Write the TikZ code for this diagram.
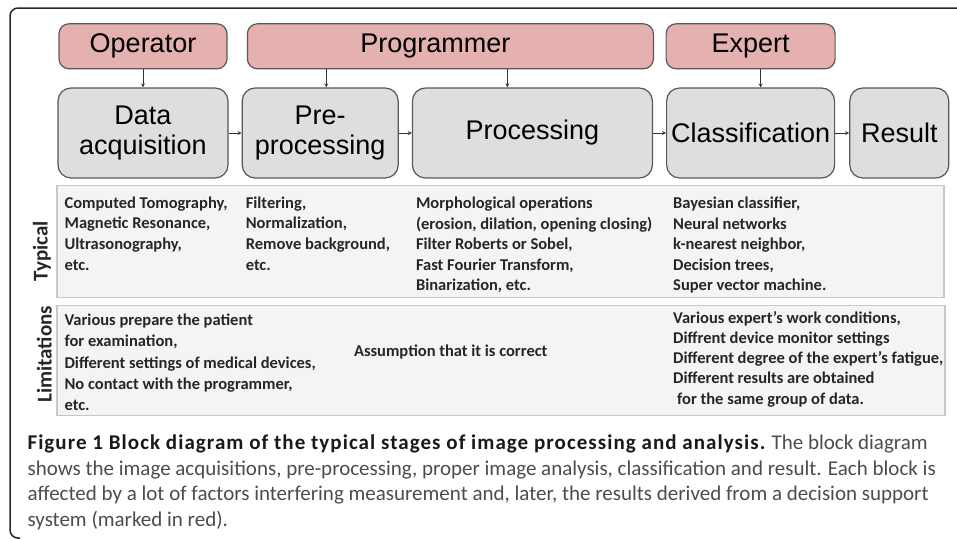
\documentclass[tikz,border=0pt]{standalone}
\usepackage{fontspec}
\usepackage{tikz}
\usepackage{xcolor}
\usetikzlibrary{shapes.geometric, arrows, positioning}
\newfontfamily\boxfont{Liberation Sans}
\newfontfamily\bodyfont{Carlito}
\definecolor{actorpink}{RGB}{229,176,176}
\definecolor{stagegray}{RGB}{222,222,222}
\definecolor{panelgray}{RGB}{244,244,244}
\definecolor{edgegray}{RGB}{88,88,88}
\definecolor{paneledge}{RGB}{200,200,200}
\tikzstyle{actor} = [rectangle, rounded corners=10pt, minimum height=45pt, text centered, draw=edgegray, fill=actorpink, line width=1.2pt, inner sep=0pt, font=\boxfont\fontsize{27}{30}\selectfont]
\tikzstyle{stage} = [rectangle, rounded corners=13pt, minimum height=90pt, align=center, draw=edgegray, fill=stagegray, line width=1.2pt, inner sep=0pt, font=\boxfont\fontsize{27}{30}\selectfont]
\tikzstyle{panel} = [rectangle, draw=paneledge, fill=panelgray, line width=1.2pt, inner sep=0pt]
\tikzstyle{paneltext} = [anchor=north west, align=left, inner sep=0pt, text=black!85, font=\bodyfont\bfseries\fontsize{16.5}{20.6}\selectfont]
\tikzstyle{sidelabel} = [rotate=90, inner sep=0pt, text=black!85, font=\bodyfont\bfseries\fontsize{21}{24}\selectfont]
\tikzstyle{arrow} = [line width=0.8pt,->,>=stealth, draw=black!80]

\begin{document}
\begin{tikzpicture}[x=1pt, y=-1pt]
        \useasboundingbox (0,0) rectangle (957,538);
        \draw [line width=1.5pt, rounded corners=8pt, black!85] (957,8) -- (10,8) -- (10,538) -- (20,538);

        \node (acq) [stage, minimum width=170pt] at (143,133) {Data\\acquisition};
        \node (pre) [stage, minimum width=156pt, right=13pt of acq] {Pre-\\processing};
        \node (proc) [stage, minimum width=240pt, right=13pt of pre] {Processing};
        \node (cls) [stage, minimum width=168pt, right=13pt of proc] {Classification};
        \node (res) [stage, minimum width=99pt, right=14pt of cls] {Result};

        \node (oper) [actor, minimum width=168pt, above=18pt of acq] {Operator};
        \node (prog) [actor, minimum width=406pt, above=18pt of proc, xshift=-82pt] {Programmer\hspace*{30pt}};
        \node (expt) [actor, minimum width=169pt, above=18pt of cls] {Expert};

        \node (typ) [panel, minimum width=887pt, minimum height=112pt, below=6pt of acq.south west, anchor=north west, xshift=-1pt] {};
        \node (lim) [panel, minimum width=888pt, minimum height=110pt, below=7pt of typ.south west, anchor=north west] {};
        \node (labtyp) [xshift=-14.5pt, yshift=-10pt, sidelabel] at (typ.west) {Typical};
        \node (lablim) [xshift=-12pt, yshift=6pt, sidelabel] at (lim.west) {Limitations};

        \node (typacq) [paneltext, xshift=7pt, yshift=-12pt] at (typ.north -| acq.west) {Computed Tomography,\\Magnetic Resonance,\\Ultrasonography,\\etc.};
        \node (typpre) [paneltext, xshift=4pt, yshift=-12pt] at (typ.north -| pre.west) {Filtering,\\Normalization,\\Remove background,\\etc.};
        \node (typproc) [paneltext, xshift=4pt, yshift=-12pt] at (typ.north -| proc.west) {Morphological operations\\(erosion, dilation, opening closing)\\Filter Roberts or Sobel,\\Fast Fourier Transform,\\Binarization, etc.};
        \node (typcls) [paneltext, xshift=7pt, yshift=-12pt] at (typ.north -| cls.west) {Bayesian classifier,\\Neural networks\\k-nearest neighbor,\\Decision trees,\\Super vector machine.};
        \node (limacq) [paneltext, xshift=7pt, yshift=-9pt, font=\bodyfont\bfseries\fontsize{16.5}{21.2}\selectfont] at (lim.north -| acq.west) {Various prepare the patient\\for examination,\\Different settings of medical devices,\\No contact with the programmer,\\etc.};
        \node (limproc) [paneltext, anchor=west, xshift=-58pt, yshift=8pt] at (lim.west -| proc.west) {Assumption that it is correct};
        \node (limcls) [paneltext, xshift=7pt, yshift=-6pt, font=\bodyfont\bfseries\fontsize{16.5}{20.3}\selectfont] at (lim.north -| cls.west) {Various expert’s work conditions,\\Diffrent device monitor settings\\Different degree of the expert’s fatigue,\\Different results are obtained\\\hspace*{4pt}for the same group of data.};

        \node (caption) [anchor=north west, align=left, inner sep=0pt, xshift=-29pt, yshift=-19pt, text=black!70, font=\bodyfont\fontsize{21}{25.5}\selectfont] at (lim.south west) {{\bfseries\addfontfeature{LetterSpace=5}\color{black!90}Figure 1 Block diagram of the typical stages of image processing and analysis.} The block diagram\\shows the image acquisitions, pre-processing, proper image analysis, classification and result. Each block is\\affected by a lot of factors interfering measurement and, later, the results derived from a decision support\\system (marked in red).};

        \draw [arrow] (oper) -- (acq);
        \draw [arrow] ([xshift=6pt]pre.north |- prog.south) -- ([xshift=6pt]pre.north);
        \draw [arrow] ([xshift=-25pt]proc.north |- prog.south) -- ([xshift=-25pt]proc.north);
        \draw [arrow] ([xshift=10pt]expt.south) -- ([xshift=10pt]cls.north);
        \draw [arrow] (acq) -- (pre);
        \draw [arrow] (pre) -- (proc);
        \draw [arrow] (proc) -- (cls);
        \draw [arrow] (cls) -- (res);
    \end{tikzpicture}
\end{document}
